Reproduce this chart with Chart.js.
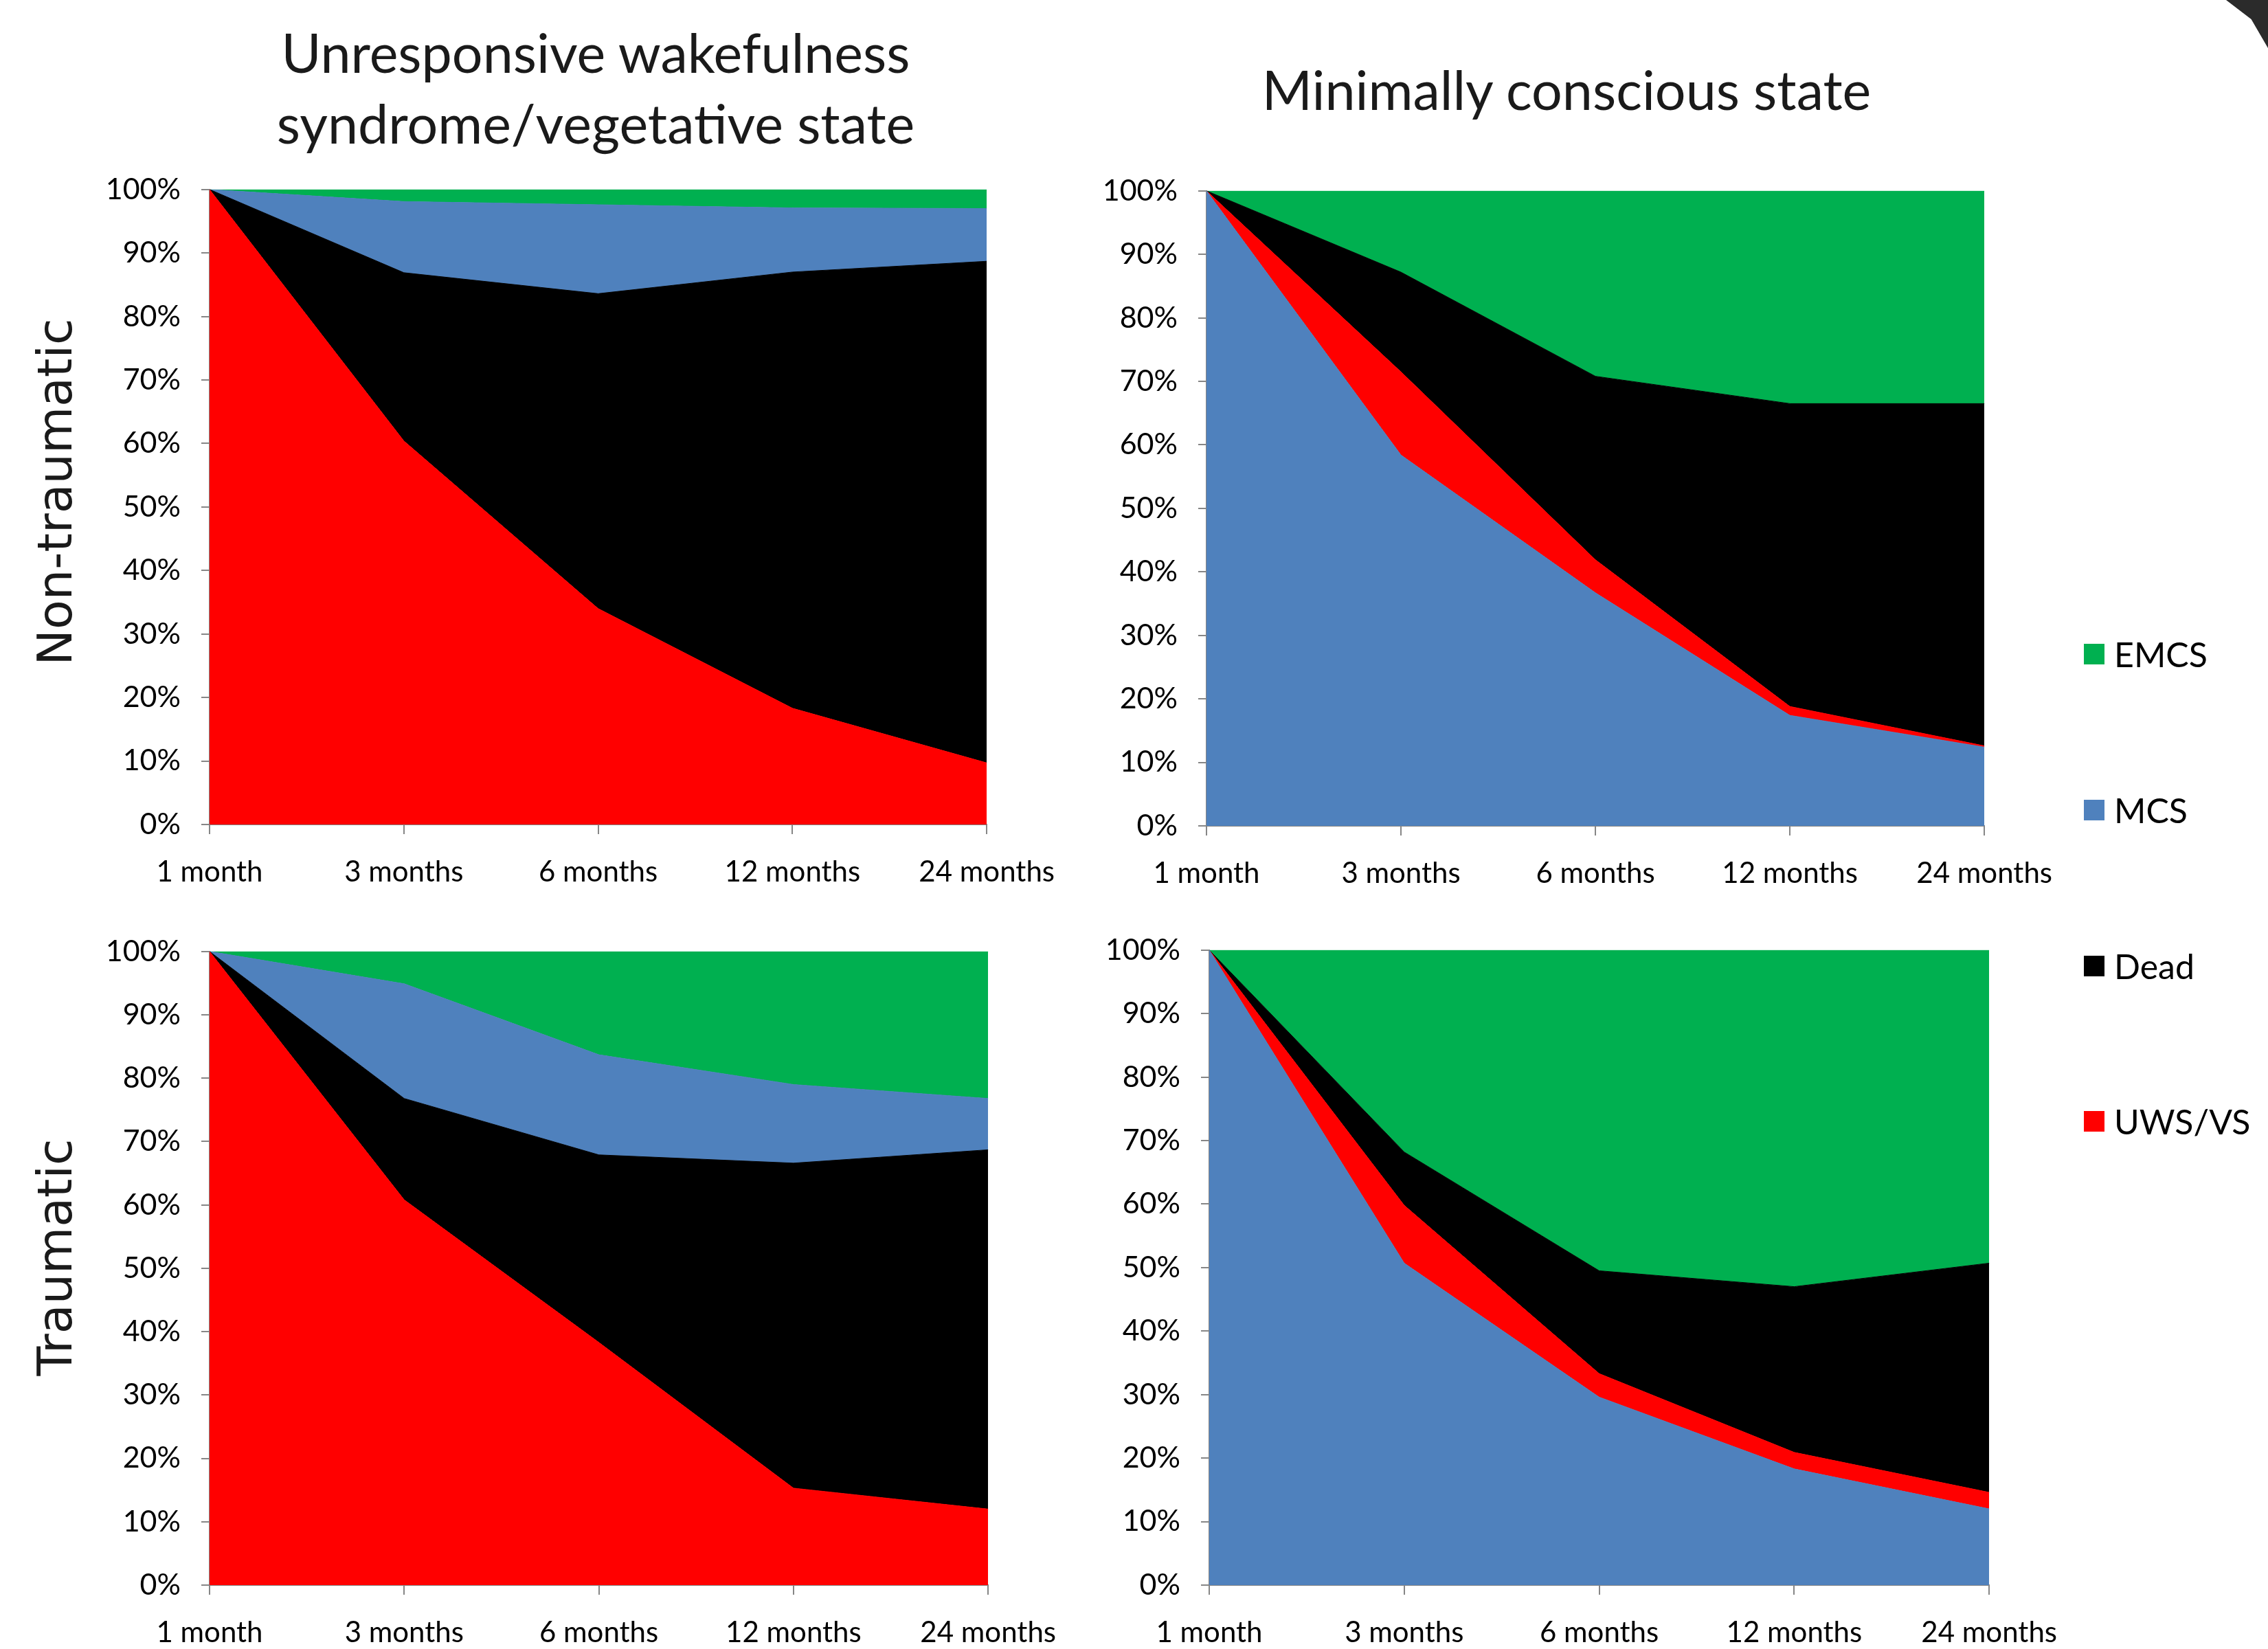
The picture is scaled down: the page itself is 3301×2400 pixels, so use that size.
<!DOCTYPE html>
<html lang="en">
<head>
    <meta charset="UTF-8">
    <title>Outcome of disorders of consciousness</title>
    <script src="https://cdn.jsdelivr.net/npm/chart.js"></script>
    <style>
        body {
            margin: 0;
            width: 3301px;
            height: 2400px;
            background: #ffffff;
            position: relative;
            overflow: hidden;
            font-family: Lato, "Open Sans", sans-serif;
        }
        canvas { position: absolute; }
        .title {
            position: absolute;
            text-align: center;
            font-size: 79px;
            line-height: 103px;
            color: #1a1a1a;
            white-space: nowrap;
        }
        .rowlabel {
            position: absolute;
            font-family: "DejaVu Sans", sans-serif;
            font-size: 70px;
            color: #1a1a1a;
            white-space: nowrap;
            transform: translate(-50%, -50%) rotate(-90deg);
        }
        .legend-item {
            position: absolute;
            left: 3033px;
            font-size: 50px;
            color: #000;
            display: flex;
            align-items: center;
            transform: translateY(-50%);
        }
        .legend-item span.box {
            display: inline-block;
            width: 30px;
            height: 30px;
            margin-right: 14px;
        }
        .corner {
            position: absolute;
            left: 3240px;
            top: 0;
            width: 61px;
            height: 70px;
            background: #2b2b2b;
            clip-path: polygon(0 0, 100% 0, 100% 100%, 60% 40%);
        }
    </style>
</head>
<body>
    <div class="title" style="left: 867px; top: 24px; transform: translateX(-50%);">Unresponsive wakefulness<br>syndrome/vegetative state</div>
    <div class="title" style="left: 2280px; top: 78px; transform: translateX(-50%);">Minimally conscious state</div>

    <div class="rowlabel" style="left: 80px; top: 716px;">Non-traumatic</div>
    <div class="rowlabel" style="left: 80px; top: 1830px;">Traumatic</div>

    <div class="legend-item" style="top: 952px;"><span class="box" style="background:#00B050"></span>EMCS</div>
    <div class="legend-item" style="top: 1179px;"><span class="box" style="background:#4F81BD"></span>MCS</div>
    <div class="legend-item" style="top: 1406px;"><span class="box" style="background:#000000"></span>Dead</div>
    <div class="legend-item" style="top: 1632px;"><span class="box" style="background:#FF0000"></span>UWS/VS</div>

    <div class="corner"></div>

    <canvas id="ntUws"></canvas>
    <canvas id="ntMcs"></canvas>
    <canvas id="trUws"></canvas>
    <canvas id="trMcs"></canvas>

    <script>
        // categories
        const months = ['1 month', '3 months', '6 months', '12 months', '24 months'];

        // Non-traumatic, UWS/VS at 1 month (% of patients)
        const ntUwsUws  = [100, 60.4, 34.0, 18.3, 9.7];
        const ntUwsDead = [0, 26.5, 49.6, 68.7, 79.0];
        const ntUwsMcs  = [0, 11.2, 14.0, 10.1, 8.3];
        const ntUwsEmcs = [0, 1.9, 2.4, 2.9, 3.0];

        // Non-traumatic, MCS at 1 month
        const ntMcsMcs  = [100, 58.4, 36.7, 17.4, 12.4];
        const ntMcsUws  = [0, 13.1, 5.2, 1.4, 0.2];
        const ntMcsDead = [0, 15.7, 28.9, 47.7, 53.9];
        const ntMcsEmcs = [0, 12.8, 29.2, 33.5, 33.5];

        // Traumatic, UWS/VS at 1 month
        const trUwsUws  = [100, 60.8, 38.3, 15.3, 12.0];
        const trUwsDead = [0, 16.0, 29.6, 51.3, 56.7];
        const trUwsMcs  = [0, 18.1, 15.8, 12.4, 8.1];
        const trUwsEmcs = [0, 5.1, 16.3, 21.0, 23.2];

        // Traumatic, MCS at 1 month
        const trMcsMcs  = [100, 50.7, 29.6, 18.3, 12.0];
        const trMcsUws  = [0, 9.1, 3.7, 2.6, 2.6];
        const trMcsDead = [0, 8.4, 16.2, 26.1, 36.1];
        const trMcsEmcs = [0, 31.8, 50.5, 53.0, 49.3];

        const COLORS = { UWS: '#FF0000', Dead: '#000000', MCS: '#4F81BD', EMCS: '#00B050' };
        const AXIS = '#868686';
        const YW = 200;   // width reserved for y labels
        const XH = 110;   // height reserved for x labels
        const PAD_TOP = 40;
        const PAD_RIGHT = 120;

        // draw one stacked area panel; series listed bottom to top
        function makePanel(id, plot, series) {
            const canvas = document.getElementById(id);
            let w = YW + plot.w + PAD_RIGHT;
            let h = PAD_TOP + plot.h + XH;
            canvas.width = w;
            canvas.height = h;
            canvas.style.width = w + 'px';
            canvas.style.height = h + 'px';

            const datasets = series.map((s, i) => ({
                label: s.name,
                data: s.data,
                backgroundColor: COLORS[s.name],
                borderColor: COLORS[s.name],
                borderWidth: 1,
                pointRadius: 0,
                tension: 0,
                fill: i === 0 ? 'origin' : '-1'
            }));

            const chart = new Chart(canvas.getContext('2d'), {
                type: 'line',
                data: { labels: months, datasets: datasets },
                options: {
                    responsive: false,
                    maintainAspectRatio: false,
                    animation: false,
                    devicePixelRatio: 1,
                    layout: { padding: { top: PAD_TOP, right: PAD_RIGHT, left: 0, bottom: 0 } },
                    plugins: {
                        legend: { display: false },
                        tooltip: { enabled: false }
                    },
                    scales: {
                        x: {
                            offset: false,
                            grid: { drawOnChartArea: false, drawTicks: true, tickLength: 14, color: AXIS, lineWidth: 2 },
                            border: { display: true, color: AXIS, width: 2 },
                            ticks: {
                                autoSkip: false, maxRotation: 0, padding: 30,
                                color: '#000', font: { family: 'Lato', size: 42 }
                            },
                            afterFit: s => { s.height = XH; }
                        },
                        y: {
                            stacked: true,
                            min: 0,
                            max: 100,
                            grid: { drawOnChartArea: false, drawTicks: true, tickLength: 12, color: AXIS, lineWidth: 2 },
                            border: { display: true, color: AXIS, width: 2 },
                            ticks: {
                                stepSize: 10, padding: 30,
                                color: '#000', font: { family: 'Lato', size: 43 },
                                callback: v => v + '%'
                            },
                            afterFit: s => { s.width = YW; }
                        }
                    }
                }
            });

            // grow the canvas until the plot area has the wanted size
            for (let k = 0; k < 3; k++) {
                const a = chart.chartArea;
                const dw = plot.w - (a.right - a.left);
                const dh = plot.h - (a.bottom - a.top);
                if (Math.abs(dw) < 1 && Math.abs(dh) < 1) break;
                w = Math.round(w + dw);
                h = Math.round(h + dh);
                chart.resize(w, h);
            }
            const a = chart.chartArea;
            canvas.style.left = (plot.x - a.left) + 'px';
            canvas.style.top = (plot.y - a.top) + 'px';
        }

        makePanel('ntUws', { x: 305, y: 276, w: 1131, h: 924 }, [
            { name: 'UWS', data: ntUwsUws },
            { name: 'Dead', data: ntUwsDead },
            { name: 'MCS', data: ntUwsMcs },
            { name: 'EMCS', data: ntUwsEmcs }
        ]);
        makePanel('ntMcs', { x: 1756, y: 278, w: 1132, h: 924 }, [
            { name: 'MCS', data: ntMcsMcs },
            { name: 'UWS', data: ntMcsUws },
            { name: 'Dead', data: ntMcsDead },
            { name: 'EMCS', data: ntMcsEmcs }
        ]);
        makePanel('trUws', { x: 305, y: 1385, w: 1133, h: 922 }, [
            { name: 'UWS', data: trUwsUws },
            { name: 'Dead', data: trUwsDead },
            { name: 'MCS', data: trUwsMcs },
            { name: 'EMCS', data: trUwsEmcs }
        ]);
        makePanel('trMcs', { x: 1760, y: 1383, w: 1135, h: 924 }, [
            { name: 'MCS', data: trMcsMcs },
            { name: 'UWS', data: trMcsUws },
            { name: 'Dead', data: trMcsDead },
            { name: 'EMCS', data: trMcsEmcs }
        ]);
    </script>
</body>
</html>
